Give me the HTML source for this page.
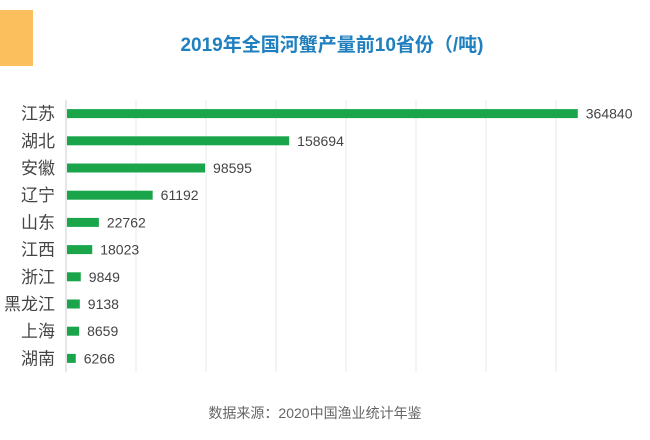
<!DOCTYPE html>
<html><head><meta charset="utf-8"><style>
body{margin:0;width:650px;height:435px;background:#fff;overflow:hidden;font-family:"Liberation Sans","Noto Sans CJK SC",sans-serif;}
</style></head><body>
<svg width="650" height="435" xmlns="http://www.w3.org/2000/svg">
<rect x="0" y="10" width="33" height="56" fill="#fcbf5e"/>
<text x="332" y="51" text-anchor="middle" font-size="19" font-weight="bold" fill="#1f7fbf" font-family="Liberation Sans,Noto Sans CJK SC,sans-serif">2019年全国河蟹产量前10省份（/吨)</text>
<g id="grid"></g><g id="bars"></g>
<text x="315" y="418" text-anchor="middle" font-size="14" fill="#666" font-family="Liberation Sans,Noto Sans CJK SC,sans-serif">数据来源：2020中国渔业统计年鉴</text>
</svg>
<script>
const categories=["江苏","湖北","安徽","辽宁","山东","江西","浙江","黑龙江","上海","湖南"];
const values=[364840,158694,98595,61192,22762,18023,9849,9138,8659,6266];
const gridTicks=[0,50000,100000,150000,200000,250000,300000,350000];
const NS="http://www.w3.org/2000/svg";
const x0=66,pxPer=70/50000,plotTop=100,plotBottom=372,rowH=(plotBottom-plotTop)/categories.length;
const xs=v=>x0+v*pxPer;
const g=document.getElementById('grid'),b=document.getElementById('bars');
gridTicks.forEach(t=>{const l=document.createElementNS(NS,'line');
l.setAttribute('x1',xs(t));l.setAttribute('x2',xs(t));l.setAttribute('y1',plotTop);l.setAttribute('y2',plotBottom);
l.setAttribute('stroke',t===0?'#ccc':'#e8e8e8');l.setAttribute('stroke-width','1');


g.appendChild(l);});
categories.forEach((c,i)=>{const cy=plotTop+rowH*(i+0.5);
const r=document.createElementNS(NS,'rect');
r.setAttribute('x',x0+1);r.setAttribute('y',cy-4.5);r.setAttribute('width',Math.max(1,xs(values[i])-x0));r.setAttribute('height',9);r.setAttribute('fill','#1aa54a');


b.appendChild(r);
const lb=document.createElementNS(NS,'text');lb.setAttribute('x',55);lb.setAttribute('y',cy+6);lb.setAttribute('text-anchor','end');lb.setAttribute('font-size','17');lb.setAttribute('fill','#444');lb.textContent=c;


b.appendChild(lb);
const vl=document.createElementNS(NS,'text');vl.setAttribute('x',xs(values[i])+9);vl.setAttribute('y',cy+5);vl.setAttribute('font-size','14');vl.setAttribute('fill','#444');vl.textContent=values[i];


b.appendChild(vl);});
</script>
</body></html>
